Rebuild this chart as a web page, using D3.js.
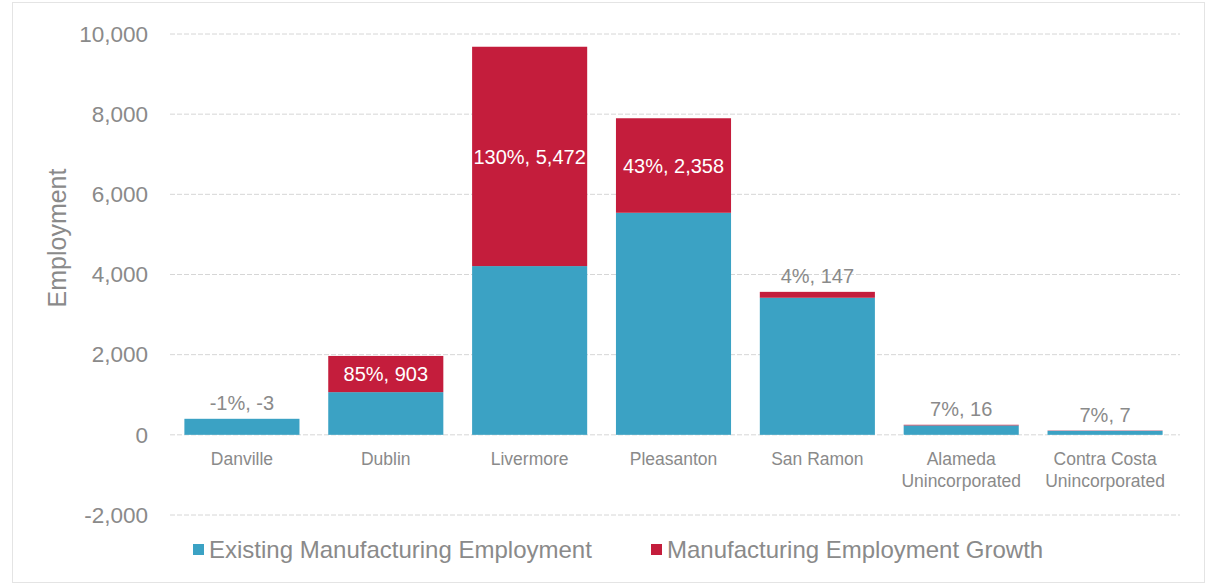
<!DOCTYPE html>
<html>
<head>
<meta charset="utf-8">
<script src="https://cdn.jsdelivr.net/npm/d3@7"></script>
<style>
  html, body { margin: 0; padding: 0; background: #fff; }
  svg { display: block; font-family: "Liberation Sans", Arial, sans-serif; }
</style>
</head>
<body>
<svg id="chart" width="1209" height="588"></svg>
<script>
// Manufacturing employment by jurisdiction: existing jobs plus projected growth
const categories = [
  ["Danville"], ["Dublin"], ["Livermore"], ["Pleasanton"], ["San Ramon"],
  ["Alameda", "Unincorporated"], ["Contra Costa", "Unincorporated"]
];
const existing = [400, 1065, 4210, 5540, 3420, 235, 100];
const growth = [-3, 903, 5472, 2358, 147, 16, 7];
const growthPct = ["-1%", "85%", "130%", "43%", "4%", "7%", "7%"];
const yTicks = [-2000, 0, 2000, 4000, 6000, 8000, 10000];
const seriesNames = ["Existing Manufacturing Employment", "Manufacturing Employment Growth"];
const colors = ["#3ba2c4", "#c41d3c"];

const svg = d3.select("#chart");
const keys = categories.map(c => c.join(" "));
const fmt = d3.formatLocale({ decimal: ".", thousands: ",", grouping: [3], currency: ["$", ""], minus: "-" }).format(",");

const x = d3.scaleBand().domain(keys).range([170, 1177]).paddingInner(0.2).paddingOuter(0.1);
const y = d3.scaleLinear().domain([-2000, 10000]).range([515, 34]);

// outer frame
svg.append("rect")
  .attr("x", 12.5).attr("y", 2.5).attr("width", 1192).attr("height", 580)
  .attr("fill", "none").attr("stroke", "#e4e4e4");

// horizontal gridlines
svg.append("g").selectAll("line").data(yTicks).join("line")
  .attr("x1", 170).attr("x2", 1180)
  .attr("y1", d => y(d)).attr("y2", d => y(d))
  .attr("stroke", "#d6d6d6").attr("stroke-width", 1)
  .attr("stroke-dasharray", "5,2");

// y axis labels
const yAxis = d3.axisLeft(y).tickValues(yTicks).tickFormat(fmt).tickSize(0).tickPadding(0);
const yg = svg.append("g").attr("transform", "translate(148,0)").call(yAxis);
yg.select(".domain").remove();
yg.selectAll("text").attr("fill", "#8a8a8a").style("font-size", "22.5px")
  .style("font-family", "\"Liberation Sans\", Arial, sans-serif");

// y axis title
svg.append("text")
  .attr("transform", "translate(66,238) rotate(-90)")
  .attr("text-anchor", "middle")
  .attr("fill", "#8a8a8a").style("font-size", "25px")
  .text("Employment");

// stacked bars
const rows = keys.map((k, i) => ({ key: k, existing: existing[i], growth: growth[i], pct: growthPct[i] }));
const bars = svg.append("g");
rows.forEach(r => {
  const bx = x(r.key), bw = x.bandwidth();
  bars.append("rect")
    .attr("x", bx).attr("width", bw)
    .attr("y", y(r.existing)).attr("height", y(0) - y(r.existing))
    .attr("fill", colors[0]);
  if (r.growth > 0) {
    bars.append("rect")
      .attr("x", bx).attr("width", bw)
      .attr("y", y(r.existing + r.growth)).attr("height", y(r.existing) - y(r.existing + r.growth))
      .attr("fill", colors[1]);
  }
});

// growth labels: inside the red segment when it is tall enough, otherwise above the bar
const labels = svg.append("g").style("font-size", "20px").attr("text-anchor", "middle");
rows.forEach(r => {
  const top = y(Math.max(r.existing, r.existing + r.growth));
  const segH = r.growth > 0 ? y(r.existing) - y(r.existing + r.growth) : 0;
  const txt = r.pct + ", " + fmt(r.growth);
  const cx = x(r.key) + x.bandwidth() / 2;
  if (segH > 30) {
    labels.append("text")
      .attr("x", cx).attr("y", (y(r.existing) + y(r.existing + r.growth)) / 2)
      .attr("dy", "0.36em").attr("fill", "#ffffff").text(txt);
  } else {
    labels.append("text")
      .attr("x", cx).attr("y", top - 9)
      .attr("fill", "#8a8a8a").text(txt);
  }
});

// category labels
const xg = svg.append("g").attr("fill", "#8a8a8a").style("font-size", "17.5px").attr("text-anchor", "middle");
categories.forEach((lines, i) => {
  const t = xg.append("text").attr("x", x(keys[i]) + x.bandwidth() / 2).attr("y", 465);
  lines.forEach((ln, j) => {
    t.append("tspan").attr("x", x(keys[i]) + x.bandwidth() / 2).attr("dy", j === 0 ? 0 : 22).text(ln);
  });
});

// legend
const legendX = [193, 651];
const lg = svg.append("g");
seriesNames.forEach((name, i) => {
  lg.append("rect").attr("x", legendX[i]).attr("y", 544).attr("width", 11).attr("height", 11).attr("fill", colors[i]);
  lg.append("text").attr("x", legendX[i] + 16).attr("y", 558)
    .attr("fill", "#8a8a8a").style("font-size", "24px").text(name);
});
</script>
</body>
</html>
